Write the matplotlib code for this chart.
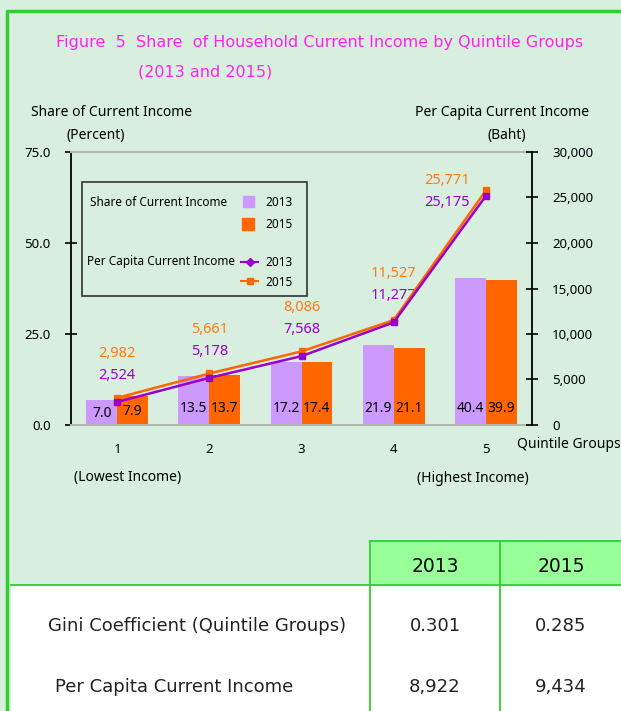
import matplotlib
matplotlib.use("Agg")
import matplotlib.pyplot as plt
from matplotlib.patches import Rectangle
import numpy as np

# ---------- data ----------
quintiles = ["1", "2", "3", "4", "5"]
share_2013 = [7.0, 13.5, 17.2, 21.9, 40.4]
share_2015 = [7.9, 13.7, 17.4, 21.1, 39.9]
percap_2013 = [2524, 5178, 7568, 11277, 25175]
percap_2015 = [2982, 5661, 8086, 11527, 25771]

table_rows = ["Gini Coefficient (Quintile Groups)", "Per Capita Current Income"]
table_years = ["2013", "2015"]
table_2013 = ["0.301", "8,922"]
table_2015 = ["0.285", "9,434"]

# ---------- style ----------
BG = "#d8efdf"
BORDER = "#33cc33"
C13_BAR = "#cc99ff"
C15_BAR = "#ff6600"
C13_LINE = "#9900cc"
C15_LINE = "#ff6600"
C15_TXT = "#ff7a1a"
TITLE_C = "#ff22ee"
CHART_FONT = "Noto Sans"
W, H = 621, 711

plt.rcParams["font.family"] = [CHART_FONT, "DejaVu Sans"]

fig = plt.figure(figsize=(W / 100, H / 100), dpi=100, facecolor=BG)


def frac(x0, y0, x1, y1):
    return [x0 / W, 1 - y1 / H, (x1 - x0) / W, (y1 - y0) / H]


# ---------- main chart ----------
ax = fig.add_axes(frac(71, 152, 532, 425))
ax.set_facecolor("none")
x = np.arange(len(quintiles))
bw = 0.335
ax.bar(x - bw / 2, share_2013, bw, color=C13_BAR, zorder=2)
ax.bar(x + bw / 2, share_2015, bw, color=C15_BAR, zorder=2)
ax.set_xlim(-0.5, len(quintiles) - 0.5)
ax.set_ylim(0, 75)
ax.set_yticks([0, 25, 50, 75])
ax.set_yticklabels([f"{v:.1f}" for v in [0, 25, 50, 75]], fontsize=9.5)
ax.set_xticks(x)
ax.set_xticklabels(quintiles, fontsize=9.5)
ax.tick_params(axis="x", length=0, pad=13)
ax.tick_params(axis="y", direction="inout", length=9, width=1.2, pad=10)
ax.spines["left"].set_linewidth(1.3)
for s in ["top", "bottom"]:
    ax.spines[s].set_color("#b0b8b0")
    ax.spines[s].set_linewidth(1.5)
ax.spines["right"].set_visible(False)

for i, (a, b) in enumerate(zip(share_2013, share_2015)):
    ax.text(i - bw / 2, min(4.6, a * 0.47), f"{a:.1f}", ha="center", va="center",
            fontsize=10, zorder=3)
    ax.text(i + bw / 2, min(4.6, b * 0.47), f"{b:.1f}", ha="center", va="center",
            fontsize=10, zorder=3)

ax2 = ax.twinx()
ax2.set_ylim(0, 30000)
ax2.set_yticks(range(0, 30001, 5000))
ax2.set_yticklabels([f"{v:,}" for v in range(0, 30001, 5000)], fontsize=9.5)
ax2.tick_params(axis="y", direction="inout", length=9, width=1.2, pad=10)
ax2.spines["right"].set_linewidth(1.3)
for s in ["top", "bottom", "left"]:
    ax2.spines[s].set_visible(False)

ax2.plot(x, percap_2015, color=C15_LINE, lw=1.8, marker="s", ms=4, zorder=4)
ax2.plot(x, percap_2013, color=C13_LINE, lw=1.8, marker="s", ms=4, zorder=4)

for i, (a, b) in enumerate(zip(percap_2013, percap_2015)):
    if i < len(x) - 1:
        off13, off15 = (0, 19), (0, 35)
    else:
        off13, off15 = (-28, -5), (-28, 11)
    ax2.annotate(f"{a:,}", (i, a), xytext=off13, textcoords="offset points",
                 ha="center", va="center", color=C13_LINE, fontsize=10.5)
    ax2.annotate(f"{b:,}", (i, a), xytext=off15, textcoords="offset points",
                 ha="center", va="center", color=C15_TXT, fontsize=10.5)

# ---------- overlay (pixel coordinates) ----------
ov = fig.add_axes([0, 0, 1, 1], zorder=10)
ov.set_xlim(0, W)
ov.set_ylim(H, 0)
ov.axis("off")
ov.patch.set_alpha(0)

# outer border
ov.plot([7, 7, W + 5], [H + 5, 11, 11], color=BORDER, lw=2.5)

# title
ov.text(320, 43, "Figure  5  Share  of Household Current Income by Quintile Groups",
        ha="center", va="center", color=TITLE_C, fontsize=11.5, family="DejaVu Sans")
ov.text(205, 72, "(2013 and 2015)", ha="center", va="center", color=TITLE_C,
        fontsize=11.5, family="DejaVu Sans")

# axis titles
ov.text(112, 113, "Share of Current Income", ha="center", va="center", fontsize=10)
ov.text(96, 135, "(Percent)", ha="center", va="center", fontsize=10)
ov.text(502, 113, "Per Capita Current Income", ha="center", va="center", fontsize=10)
ov.text(507, 135, "(Baht)", ha="center", va="center", fontsize=10)
ov.text(569, 445, "Quintile Groups", ha="center", va="center", fontsize=10)
ov.text(128, 478, "(Lowest Income)", ha="center", va="center", fontsize=10)
ov.text(473, 478, "(Highest Income)", ha="center", va="center", fontsize=10)

# legend box
ov.add_patch(Rectangle((82, 182), 225, 114, fill=False, ec="#333333", lw=1.2))
ov.text(90, 202, "Share of Current Income", va="center", fontsize=8.5)
ov.text(87, 262, "Per Capita Current Income", va="center", fontsize=8.5)
ov.add_patch(Rectangle((243, 196), 11, 11, color=C13_BAR))
ov.add_patch(Rectangle((242, 218), 12, 12, color=C15_BAR))
ov.plot([241, 258], [262, 262], color=C13_LINE, lw=1.5)
ov.plot([249.5], [262], marker="D", ms=4, color=C13_LINE)
ov.plot([241, 258], [281, 281], color=C15_LINE, lw=1.5)
ov.plot([249.5], [281], marker="s", ms=5, color=C15_LINE)
for yy, t in zip([202, 224, 263, 283], table_years * 2):
    ov.text(265, yy, t, va="center", fontsize=8.5)

# table
ov.add_patch(Rectangle((11, 585), W, H - 585 + 5, color="white", zorder=1))
ov.add_patch(Rectangle((370, 541), W, 44, color="#99ff99", zorder=1))
ov.plot([370, 370], [541, H + 5], color=BORDER, lw=1.3, zorder=2)
ov.plot([500, 500], [541, H + 5], color=BORDER, lw=1.3, zorder=2)
ov.plot([370, W + 5], [541, 541], color=BORDER, lw=1.3, zorder=2)
ov.plot([11, W + 5], [585, 585], color=BORDER, lw=1.3, zorder=2)

for cx, yr in zip([435, 561], table_years):
    ov.text(cx, 567, yr, ha="center", va="center", fontsize=13.5, zorder=3,
            family="DejaVu Sans")
for yy, name, v13, v15, lx in zip([626, 687], table_rows, table_2013, table_2015, [48, 55]):
    for tx, s, ha in [(lx, name, "left"), (435, v13, "center"), (561, v15, "center")]:
        ov.text(tx, yy, s, ha=ha, va="center", fontsize=13, zorder=3,
                color="#222222", family="DejaVu Sans")

fig.savefig("out.png", dpi=100, facecolor=BG)
